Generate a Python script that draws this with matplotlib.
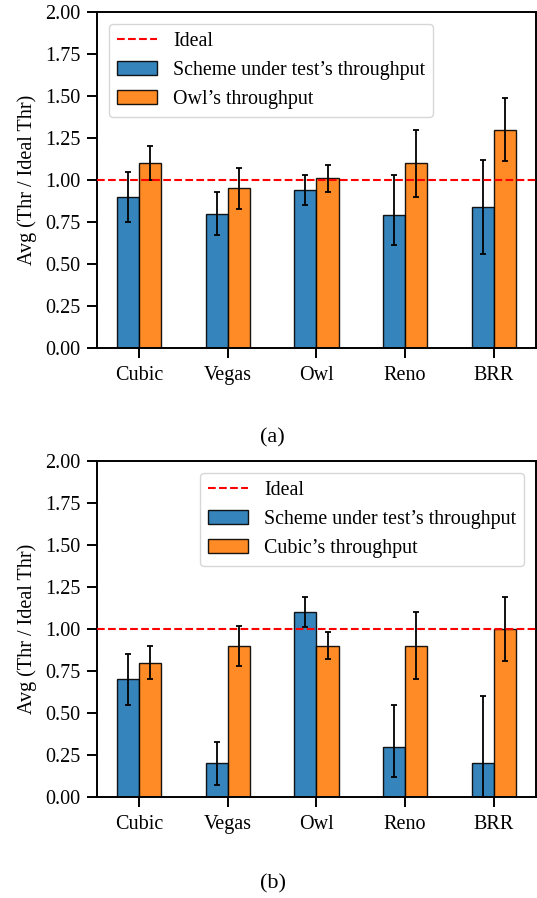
import numpy as np
import matplotlib
matplotlib.use('Agg')
import matplotlib.pyplot as plt

plt.rcParams['font.family'] = 'Liberation Serif'

schemes = ['Cubic', 'Vegas', 'Owl', 'Reno', 'BRR']

# panel (a): scheme under test vs Owl
test_a = [0.90, 0.80, 0.94, 0.79, 0.84]
test_a_lo = [0.15, 0.13, 0.09, 0.18, 0.28]
test_a_hi = [0.15, 0.13, 0.09, 0.24, 0.28]
owl_a = [1.10, 0.95, 1.01, 1.10, 1.30]
owl_a_err = [0.10, 0.12, 0.08, 0.20, 0.19]

# panel (b): scheme under test vs Cubic
test_b = [0.70, 0.20, 1.10, 0.30, 0.20]
test_b_lo = [0.15, 0.13, 0.09, 0.18, 0.40]
test_b_hi = [0.15, 0.13, 0.09, 0.25, 0.40]
cubic_b = [0.80, 0.90, 0.90, 0.90, 1.00]
cubic_b_err = [0.10, 0.12, 0.08, 0.20, 0.19]

width = 0.25
blue = '#1f77b4'
orange = '#ff7f0e'
err_kw = dict(ecolor='black', elinewidth=1.3, capsize=2.5, capthick=1.3)


def draw_panel(ax, test, lo, hi, other, other_err, other_label, loc):
    x = np.arange(len(schemes))
    ax.axhline(1.0, color='red', linestyle='--', linewidth=1.5, label='Ideal', zorder=3)
    ax.bar(x - width / 2, test, width, yerr=[lo, hi], color=blue, alpha=0.9,
           edgecolor='black', linewidth=1, error_kw=err_kw,
           label='Scheme under test\u2019s throughput')
    ax.bar(x + width / 2, other, width, yerr=other_err, color=orange, alpha=0.9,
           edgecolor='black', linewidth=1, error_kw=err_kw, label=other_label)
    ax.set_xticks(x)
    ax.set_xticklabels(schemes, fontsize=14.5)
    ax.set_ylim(0, 2.0)
    ticks = np.arange(0, 2.01, 0.25)
    ax.set_yticks(ticks)
    ax.set_yticklabels([f'{v:.2f}' for v in ticks], fontsize=14.5)
    ax.set_ylabel('Avg (Thr / Ideal Thr)', fontsize=14.5, labelpad=6)
    ax.tick_params(axis='y', length=7, width=1.4, pad=5)
    ax.tick_params(axis='x', length=7, width=1.4, pad=6)
    for s in ax.spines.values():
        s.set_linewidth(1.4)
    ax.legend(loc=loc, fontsize=14.4, borderaxespad=0.6)


fig = plt.figure(figsize=(5.37, 8.98), dpi=100)
ax1 = fig.add_axes([0.1806, 0.6125, 0.8175, 0.3742])
ax2 = fig.add_axes([0.1806, 0.1125, 0.8175, 0.3742])

draw_panel(ax1, test_a, test_a_lo, test_a_hi, owl_a, owl_a_err, 'Owl\u2019s throughput', 'upper left')
draw_panel(ax2, test_b, test_b_lo, test_b_hi, cubic_b, cubic_b_err, 'Cubic\u2019s throughput', 'upper right')

fig.text(0.508, 1 - 438 / 898, '(a)', ha='center', va='center', fontsize=16)
fig.text(0.508, 1 - 884 / 898, '(b)', ha='center', va='center', fontsize=16)

plt.savefig('out.png', dpi=100)
